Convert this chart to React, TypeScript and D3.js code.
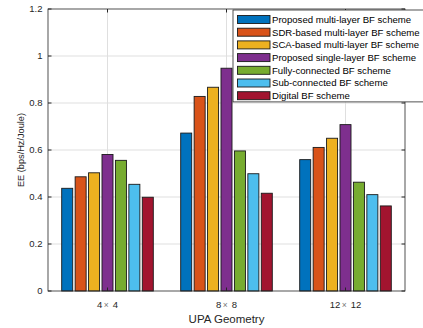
import * as d3 from "d3";
import { useEffect, useRef } from "react";

// UPA geometries on the x axis: [left, right] of "n × n"
const categories = [["4", "4"], ["8", "8"], ["12", "12"]];

// EE values per scheme (bps/Hz/Joule), one entry per geometry
const proposedMulti = [0.437, 0.672, 0.559];
const sdrMulti = [0.486, 0.828, 0.611];
const scaMulti = [0.503, 0.867, 0.65];
const proposedSingle = [0.581, 0.948, 0.708];
const fullyConnected = [0.556, 0.596, 0.463];
const subConnected = [0.454, 0.499, 0.41];
const digital = [0.399, 0.416, 0.362];

const seriesNames = [
  "Proposed multi-layer BF scheme",
  "SDR-based multi-layer BF scheme",
  "SCA-based multi-layer BF scheme",
  "Proposed  single-layer BF scheme",
  "Fully-connected BF scheme",
  "Sub-connected BF scheme",
  "Digital BF scheme",
];
const seriesValues = [proposedMulti, sdrMulti, scaMulti, proposedSingle, fullyConnected, subConnected, digital];
const colors = ["#0072BD", "#D95319", "#EDB120", "#7E2F8E", "#77AC30", "#4DBEEE", "#A2142F"];
const yTicks = [0, 0.2, 0.4, 0.6, 0.8, 1, 1.2];

const App = () => {
  const ref = useRef<HTMLDivElement>(null);

  useEffect(() => {
    d3.select(ref.current).select("svg").remove();

    const W = 423, H = 328;
    const margin = { top: 9, right: 18, bottom: 37, left: 48 };
    const width = W - margin.left - margin.right;
    const height = H - margin.top - margin.bottom;
    const font = "'Liberation Sans', Arial, Helvetica, sans-serif";
    const textColor = "#262626";
    const axisColor = "#262626";

    const svg = d3
      .select(ref.current)
      .append("svg")
      .attr("width", W)
      .attr("height", H)
      .style("display", "block")
      .style("background", "white");

    const g = svg.append("g").attr("transform", `translate(${margin.left},${margin.top})`);

    // x: linear like MATLAB's bar, groups at 1..3 with xlim [0.5, 3.5]
    const x = d3.scaleLinear().domain([0.5, 3.5]).range([0, width]);
    const y = d3.scaleLinear().domain([0, 1.2]).range([height, 0]);

    // grid
    g.append("g")
      .selectAll("line")
      .data(yTicks.slice(1, -1))
      .join("line")
      .attr("x1", 0)
      .attr("x2", width)
      .attr("y1", (d) => y(d))
      .attr("y2", (d) => y(d))
      .attr("stroke", "#dfdfdf")
      .attr("stroke-width", 1);
    g.append("g")
      .selectAll("line")
      .data(categories.map((_, i) => i + 1))
      .join("line")
      .attr("x1", (d) => x(d))
      .attr("x2", (d) => x(d))
      .attr("y1", 0)
      .attr("y2", height)
      .attr("stroke", "#dfdfdf")
      .attr("stroke-width", 1);

    // bars
    const groupWidth = 0.79;
    const slot = groupWidth / seriesNames.length;
    const barW = x(slot * 0.82) - x(0);
    seriesValues.forEach((vals, s) => {
      g.append("g")
        .selectAll("rect")
        .data(vals)
        .join("rect")
        .attr("x", (_, i) => x(i + 1 - groupWidth / 2 + slot * (s + 0.5)) - barW / 2)
        .attr("y", (d) => y(d))
        .attr("width", barW)
        .attr("height", (d) => height - y(d))
        .attr("fill", colors[s])
        .attr("stroke", "#1a1a1a")
        .attr("stroke-width", 0.9);
    });

    // axes box
    g.append("rect")
      .attr("x", 0)
      .attr("y", 0)
      .attr("width", width)
      .attr("height", height)
      .attr("fill", "none")
      .attr("stroke", axisColor)
      .attr("stroke-width", 0.8);

    const tickLen = 3.5;
    const yAxis = g.append("g");
    yTicks.forEach((t) => {
      yAxis.append("line").attr("x1", 0).attr("x2", tickLen).attr("y1", y(t)).attr("y2", y(t)).attr("stroke", axisColor);
      yAxis.append("line").attr("x1", width - tickLen).attr("x2", width).attr("y1", y(t)).attr("y2", y(t)).attr("stroke", axisColor);
      yAxis
        .append("text")
        .attr("x", -5.5)
        .attr("y", y(t))
        .attr("dy", "0.35em")
        .attr("text-anchor", "end")
        .attr("font-family", font)
        .attr("font-size", 9.5)
        .attr("fill", textColor)
        .text(d3.format("~g")(t));
    });

    const xAxis = g.append("g");
    categories.forEach(([a, b], i) => {
      const px = x(i + 1);
      xAxis.append("line").attr("x1", px).attr("x2", px).attr("y1", height).attr("y2", height - tickLen).attr("stroke", axisColor);
      xAxis.append("line").attr("x1", px).attr("x2", px).attr("y1", 0).attr("y2", tickLen).attr("stroke", axisColor);
      const t = xAxis
        .append("text")
        .attr("x", px)
        .attr("y", height + 16.5)
        .attr("text-anchor", "middle")
        .attr("font-family", font)
        .attr("font-size", 9.5)
        .attr("fill", textColor);
      t.append("tspan").text(a);
      t.append("tspan").attr("dx", 1.5).attr("font-size", 8.5).attr("fill", "#777").text("\u00d7");
      t.append("tspan").attr("dx", 4).text(b);
    });

    // axis labels
    svg
      .append("text")
      .attr("x", margin.left + width / 2)
      .attr("y", H - 5)
      .attr("text-anchor", "middle")
      .attr("font-family", font)
      .attr("font-size", 11.5)
      .attr("fill", textColor)
      .text("UPA Geometry");
    svg
      .append("text")
      .attr("transform", `translate(24,${margin.top + height / 2}) rotate(-90)`)
      .attr("text-anchor", "middle")
      .attr("font-family", font)
      .attr("font-size", 9.2)
      .attr("fill", textColor)
      .text("EE (bps/Hz/Joule)");

    // legend
    const lx = 233, ly = 10, rowH = 12.7;
    const legend = svg.append("g");
    legend
      .append("rect")
      .attr("x", lx)
      .attr("y", ly)
      .attr("width", 200)
      .attr("height", rowH * seriesNames.length + 3)
      .attr("fill", "white")
      .attr("stroke", "#262626")
      .attr("stroke-width", 0.8);
    seriesNames.forEach((name, s) => {
      const cy = ly + 9.5 + s * rowH;
      legend
        .append("rect")
        .attr("x", lx + 4.5)
        .attr("y", cy - 4)
        .attr("width", 32.5)
        .attr("height", 8)
        .attr("fill", colors[s])
        .attr("stroke", "#1a1a1a")
        .attr("stroke-width", 0.9);
      legend
        .append("text")
        .attr("x", lx + 39)
        .attr("y", cy)
        .attr("dy", "0.35em")
        .attr("font-family", font)
        .attr("font-size", 9.6)
        .attr("fill", "#000")
        .text(name);
    });
  }, []);

  return <div ref={ref} style={{ position: "absolute", left: 0, top: 0 }} />;
};

export default App;
